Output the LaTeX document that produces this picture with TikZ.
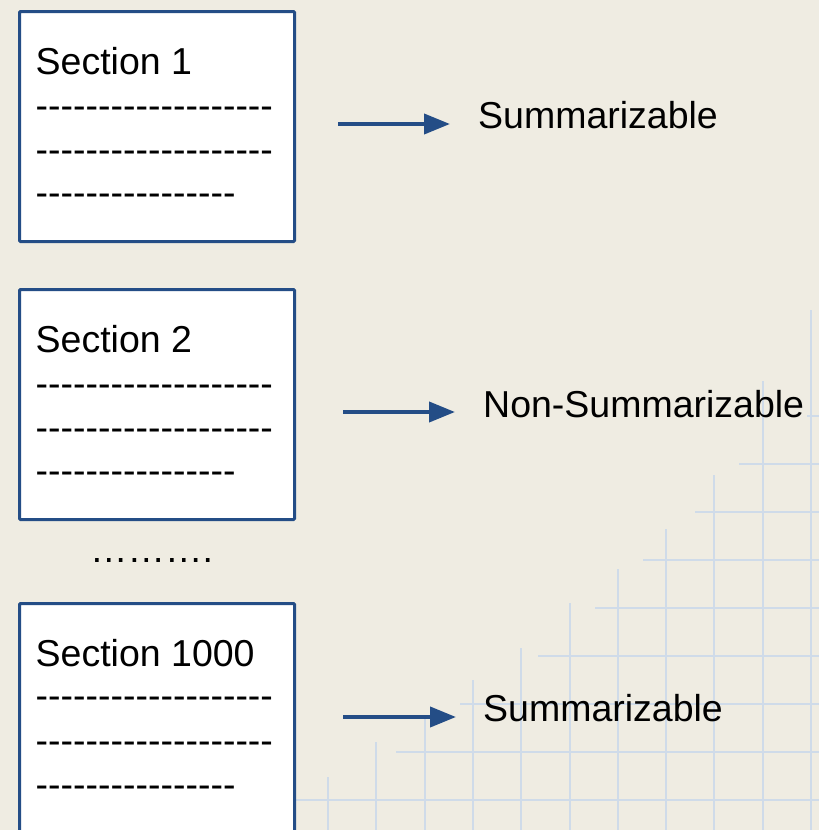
\documentclass[tikz,border=0pt]{standalone}
\usepackage{fontspec}
\setmainfont{Liberation Sans}
\usetikzlibrary{arrows.meta}
\definecolor{bg}{RGB}{239,236,226}
\definecolor{gridc}{RGB}{207,219,233}
\definecolor{navy}{RGB}{36,77,134}
\def\h{-\kern0pt}
\newcommand\hyph[1]{\foreach \k in {1,...,#1}{\h}}
\begin{document}
\begin{tikzpicture}[x=1pt,y=-1pt,
  txt/.style={font=\fontsize{37.5}{44}\selectfont, inner sep=0pt, anchor=base west, text=black},
  secbox/.style={draw=navy, line width=3pt, fill=white, rounded corners=1pt, anchor=north west,
    minimum width=275pt, minimum height=230pt, inner sep=0pt, outer sep=0pt},
  arr/.style={draw=navy, line width=4pt, -{Triangle[length=26pt,width=20pt]}},
  gridl/.style={draw=gridc, line width=2pt}]
\useasboundingbox (0,0) rectangle (819,830);
\fill[bg] (0,0) rectangle (819,830);
\clip (0,0) rectangle (819,830);
% grid (staircase)
\foreach \x/\t in {328/777, 376.3/742, 424.6/715, 472.9/680, 521.2/648, 569.5/603, 617.8/569, 666.1/529, 714.4/475, 762.7/381, 811/310}
  \draw[gridl] (\x,\t) -- (\x,832);
\foreach \y/\s in {800/280, 752/396, 704/460, 656/538, 608/595, 560/643, 512/695, 464/739, 416/807}
  \draw[gridl] (\s,\y) -- (821,\y);
% boxes
\node[secbox] (b1) at (19.5,11.5) {};
\node[secbox] (b2) at (19.5,289.5) {};
\node[secbox, minimum height=260pt] (b3) at (19.5,603.5) {};
% box texts
\node[txt] (t1a) at (35.5,74) {Section 1};
\node[txt] (t1b) at (35.5,118) {\hyph{19}};
\node[txt] (t1c) at (35.5,162) {\hyph{19}};
\node[txt] (t1d) at (35.5,205) {\hyph{16}};
\node[txt] (t2a) at (35.5,352) {Section 2};
\node[txt] (t2b) at (35.5,396) {\hyph{19}};
\node[txt] (t2c) at (35.5,440) {\hyph{19}};
\node[txt] (t2d) at (35.5,483) {\hyph{16}};
\node[txt] (t3a) at (35.5,666) {Section 1000};
\node[txt] (t3b) at (35.5,708) {\hyph{19}};
\node[txt] (t3c) at (35.5,753) {\hyph{19}};
\node[txt] (t3d) at (35.5,797) {\hyph{16}};
\node[txt] (dots) at (90,562) {……….};
% labels
\node[txt] (l1) at (478,128) {Summarizable};
\node[txt] (l2) at (483,417) {Non-Summarizable};
\node[txt] (l3) at (483,721) {Summarizable};
% arrows
\coordinate (a1s) at (338,124); \coordinate (a1e) at (450,124);
\coordinate (a2s) at (343,412); \coordinate (a2e) at (455,412);
\coordinate (a3s) at (343,717); \coordinate (a3e) at (456,717);
\draw[arr] (a1s) -- (a1e);
\draw[arr] (a2s) -- (a2e);
\draw[arr] (a3s) -- (a3e);
\end{tikzpicture}
\end{document}
